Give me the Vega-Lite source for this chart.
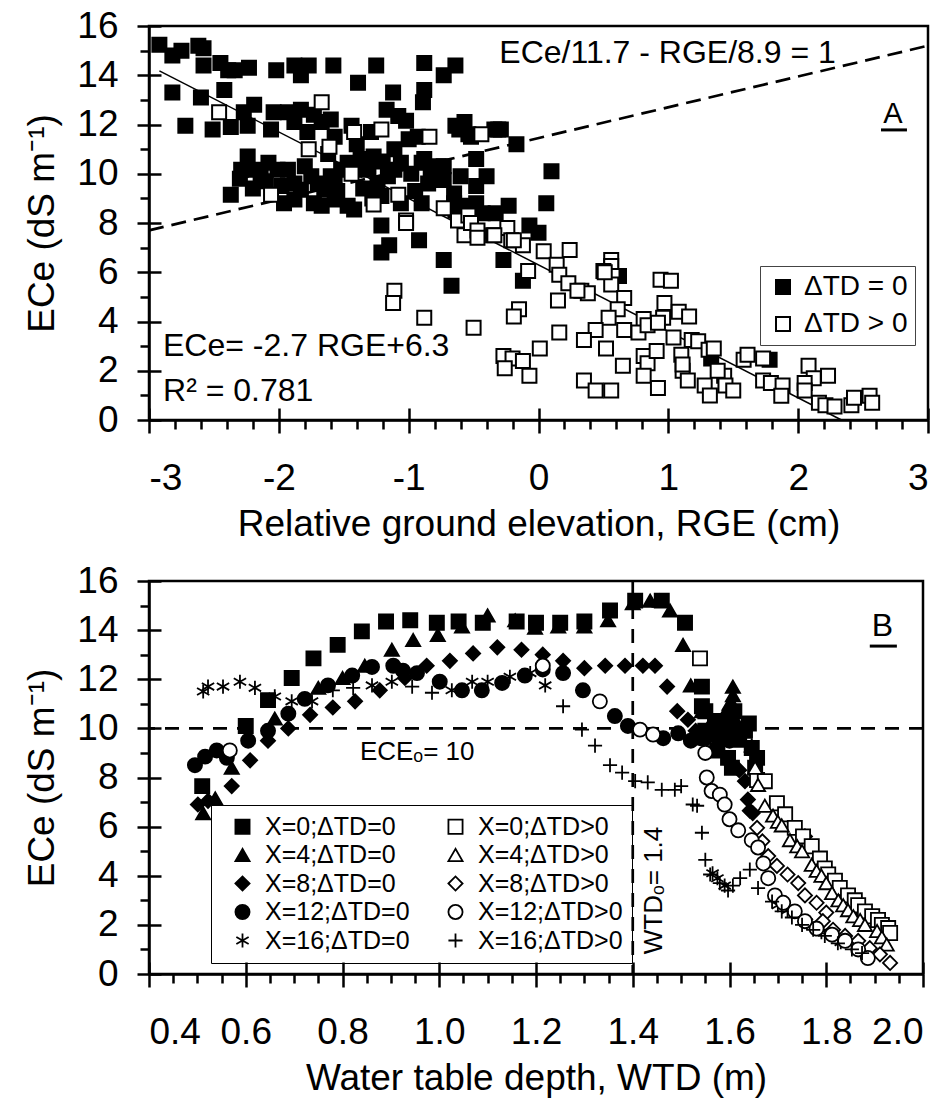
{
"$schema": "https://vega.github.io/schema/vega-lite/v6.json",
"padding": {"left": 22, "top": 5, "right": 5, "bottom": 0},
"spacing": 16,
"resolve": {"scale": {"fill": "independent", "shape": "independent", "stroke": "independent"}, "legend": {"fill": "independent", "shape": "independent", "stroke": "independent"}},
"config": {
  "font": "Liberation Sans",
  "view": {"stroke": "black", "strokeWidth": 2.5},
  "axis": {"grid": false, "domainColor": "black", "domainWidth": 2.5, "tickColor": "black", "tickWidth": 2.5, "labelColor": "black", "titleColor": "black", "labelFontSize": 37, "titleFontSize": 37, "titleFontWeight": "normal", "labelFont": "Liberation Sans", "titleFont": "Liberation Sans"},
  "legend": {"labelFont": "Liberation Sans", "labelColor": "black"},
  "text": {"font": "Liberation Sans", "color": "black"}
},
"datasets": {
  "ptsA": [
{"r":-2.92,"e":15.24,"g":"ΔTD = 0"},{"r":-2.82,"e":14.8,"g":"ΔTD = 0"},{"r":-2.75,"e":15.0,"g":"ΔTD = 0"},{"r":-2.62,"e":15.2,"g":"ΔTD = 0"},{"r":-2.58,"e":15.1,"g":"ΔTD = 0"},{"r":-2.58,"e":14.4,"g":"ΔTD = 0"},{"r":-2.45,"e":14.5,"g":"ΔTD = 0"},{"r":-2.39,"e":14.2,"g":"ΔTD = 0"},{"r":-2.34,"e":14.2,"g":"ΔTD = 0"},{"r":-2.23,"e":14.3,"g":"ΔTD = 0"},{"r":-2.02,"e":14.2,"g":"ΔTD = 0"},{"r":-1.88,"e":14.4,"g":"ΔTD = 0"},{"r":-1.83,"e":14.0,"g":"ΔTD = 0"},{"r":-1.77,"e":14.4,"g":"ΔTD = 0"},{"r":-1.58,"e":14.4,"g":"ΔTD = 0"},{"r":-1.39,"e":13.7,"g":"ΔTD = 0"},{"r":-1.25,"e":14.4,"g":"ΔTD = 0"},{"r":-1.12,"e":13.3,"g":"ΔTD = 0"},{"r":-0.88,"e":14.5,"g":"ΔTD = 0"},{"r":-0.88,"e":13.4,"g":"ΔTD = 0"},{"r":-0.89,"e":12.9,"g":"ΔTD = 0"},{"r":-0.73,"e":14.0,"g":"ΔTD = 0"},{"r":-0.64,"e":14.4,"g":"ΔTD = 0"},
{"r":-2.82,"e":13.3,"g":"ΔTD = 0"},{"r":-2.72,"e":11.95,"g":"ΔTD = 0"},{"r":-2.60,"e":13.1,"g":"ΔTD = 0"},{"r":-2.42,"e":13.4,"g":"ΔTD = 0"},{"r":-2.51,"e":11.8,"g":"ΔTD = 0"},{"r":-2.37,"e":11.9,"g":"ΔTD = 0"},{"r":-2.27,"e":12.5,"g":"ΔTD = 0"},{"r":-2.19,"e":12.8,"g":"ΔTD = 0"},{"r":-2.24,"e":11.95,"g":"ΔTD = 0"},{"r":-2.04,"e":12.5,"g":"ΔTD = 0"},{"r":-2.06,"e":11.8,"g":"ΔTD = 0"},{"r":-1.93,"e":12.5,"g":"ΔTD = 0"},{"r":-1.83,"e":12.6,"g":"ΔTD = 0"},{"r":-1.88,"e":12.1,"g":"ΔTD = 0"},{"r":-1.73,"e":12.4,"g":"ΔTD = 0"},{"r":-1.67,"e":12.1,"g":"ΔTD = 0"},{"r":-1.78,"e":11.7,"g":"ΔTD = 0"},{"r":-1.60,"e":12.2,"g":"ΔTD = 0"},{"r":-1.44,"e":11.95,"g":"ΔTD = 0"},{"r":-1.57,"e":11.5,"g":"ΔTD = 0"},{"r":-1.29,"e":11.7,"g":"ΔTD = 0"},{"r":-1.17,"e":12.6,"g":"ΔTD = 0"},{"r":-1.08,"e":12.35,"g":"ΔTD = 0"},{"r":-1.02,"e":12.15,"g":"ΔTD = 0"},{"r":-0.93,"e":11.5,"g":"ΔTD = 0"},{"r":-0.64,"e":11.95,"g":"ΔTD = 0"},{"r":-0.57,"e":12.1,"g":"ΔTD = 0"},{"r":-0.54,"e":11.6,"g":"ΔTD = 0"},
{"r":-2.29,"e":10.16,"g":"ΔTD = 0"},{"r":-2.24,"e":10.7,"g":"ΔTD = 0"},{"r":-2.19,"e":10.16,"g":"ΔTD = 0"},{"r":-2.14,"e":10.0,"g":"ΔTD = 0"},{"r":-2.08,"e":10.45,"g":"ΔTD = 0"},{"r":-2.01,"e":10.16,"g":"ΔTD = 0"},{"r":-1.93,"e":10.16,"g":"ΔTD = 0"},{"r":-1.88,"e":9.6,"g":"ΔTD = 0"},{"r":-1.83,"e":9.35,"g":"ΔTD = 0"},{"r":-1.75,"e":9.9,"g":"ΔTD = 0"},{"r":-1.70,"e":9.6,"g":"ΔTD = 0"},{"r":-1.65,"e":9.35,"g":"ΔTD = 0"},{"r":-1.60,"e":9.9,"g":"ΔTD = 0"},{"r":-1.52,"e":10.16,"g":"ΔTD = 0"},{"r":-1.47,"e":10.45,"g":"ΔTD = 0"},{"r":-1.42,"e":10.16,"g":"ΔTD = 0"},{"r":-1.37,"e":10.6,"g":"ΔTD = 0"},{"r":-1.31,"e":10.16,"g":"ΔTD = 0"},{"r":-1.24,"e":9.6,"g":"ΔTD = 0"},{"r":-1.16,"e":9.9,"g":"ΔTD = 0"},{"r":-1.11,"e":10.16,"g":"ΔTD = 0"},{"r":-1.06,"e":10.45,"g":"ΔTD = 0"},{"r":-0.98,"e":10.0,"g":"ΔTD = 0"},{"r":-0.90,"e":10.45,"g":"ΔTD = 0"},{"r":-0.83,"e":10.0,"g":"ΔTD = 0"},{"r":-0.77,"e":10.3,"g":"ΔTD = 0"},{"r":-0.73,"e":9.75,"g":"ΔTD = 0"},{"r":-0.65,"e":9.2,"g":"ΔTD = 0"},{"r":-0.60,"e":9.9,"g":"ΔTD = 0"},
{"r":-1.96,"e":8.8,"g":"ΔTD = 0"},{"r":-1.88,"e":8.95,"g":"ΔTD = 0"},{"r":-1.73,"e":8.8,"g":"ΔTD = 0"},{"r":-1.67,"e":8.7,"g":"ΔTD = 0"},{"r":-1.57,"e":8.95,"g":"ΔTD = 0"},{"r":-1.47,"e":8.7,"g":"ΔTD = 0"},{"r":-1.42,"e":8.55,"g":"ΔTD = 0"},{"r":-1.21,"e":9.1,"g":"ΔTD = 0"},{"r":-1.06,"e":8.8,"g":"ΔTD = 0"},{"r":-0.90,"e":8.8,"g":"ΔTD = 0"},{"r":-0.65,"e":8.8,"g":"ΔTD = 0"},{"r":-0.54,"e":8.7,"g":"ΔTD = 0"},{"r":-2.37,"e":9.15,"g":"ΔTD = 0"},{"r":-1.27,"e":10.7,"g":"ΔTD = 0"},{"r":-1.11,"e":11.0,"g":"ΔTD = 0"},{"r":-1.57,"e":9.6,"g":"ΔTD = 0"},{"r":-0.88,"e":10.6,"g":"ΔTD = 0"},{"r":-2.20,"e":9.4,"g":"ΔTD = 0"},{"r":-2.10,"e":9.7,"g":"ΔTD = 0"},{"r":-1.98,"e":9.5,"g":"ΔTD = 0"},{"r":-1.80,"e":10.3,"g":"ΔTD = 0"},{"r":-1.55,"e":9.3,"g":"ΔTD = 0"},{"r":-1.35,"e":9.4,"g":"ΔTD = 0"},{"r":-1.28,"e":9.0,"g":"ΔTD = 0"},{"r":-1.20,"e":10.5,"g":"ΔTD = 0"},{"r":-0.95,"e":9.3,"g":"ΔTD = 0"},{"r":-0.85,"e":9.6,"g":"ΔTD = 0"},{"r":-2.30,"e":9.8,"g":"ΔTD = 0"},{"r":-1.62,"e":10.8,"g":"ΔTD = 0"},{"r":-1.00,"e":11.4,"g":"ΔTD = 0"},{"r":-1.40,"e":11.2,"g":"ΔTD = 0"},
{"r":-1.21,"e":7.9,"g":"ΔTD = 0"},{"r":-1.21,"e":6.8,"g":"ΔTD = 0"},{"r":-1.15,"e":7.1,"g":"ΔTD = 0"},{"r":-0.92,"e":7.3,"g":"ΔTD = 0"},{"r":-0.73,"e":6.5,"g":"ΔTD = 0"},{"r":-0.67,"e":5.45,"g":"ΔTD = 0"},{"r":-0.61,"e":11.8,"g":"ΔTD = 0"},{"r":-0.52,"e":11.5,"g":"ΔTD = 0"},{"r":-0.34,"e":11.8,"g":"ΔTD = 0"},{"r":-0.29,"e":11.8,"g":"ΔTD = 0"},{"r":-0.17,"e":11.2,"g":"ΔTD = 0"},{"r":-0.48,"e":10.6,"g":"ΔTD = 0"},{"r":-0.73,"e":10.3,"g":"ΔTD = 0"},{"r":-0.79,"e":9.8,"g":"ΔTD = 0"},{"r":0.10,"e":10.1,"g":"ΔTD = 0"},{"r":-0.48,"e":9.5,"g":"ΔTD = 0"},{"r":-0.48,"e":8.8,"g":"ΔTD = 0"},{"r":-0.43,"e":8.4,"g":"ΔTD = 0"},{"r":-0.33,"e":8.4,"g":"ΔTD = 0"},{"r":-0.23,"e":8.7,"g":"ΔTD = 0"},{"r":0.06,"e":8.8,"g":"ΔTD = 0"},{"r":-0.07,"e":7.9,"g":"ΔTD = 0"},{"r":0.00,"e":7.6,"g":"ΔTD = 0"},{"r":-0.64,"e":8.5,"g":"ΔTD = 0"},{"r":-0.27,"e":6.5,"g":"ΔTD = 0"},{"r":-0.12,"e":5.65,"g":"ΔTD = 0"},{"r":0.62,"e":5.85,"g":"ΔTD = 0"},{"r":1.33,"e":2.5,"g":"ΔTD = 0"},{"r":1.78,"e":2.45,"g":"ΔTD = 0"},{"r":-0.31,"e":11.8,"g":"ΔTD = 0"},{"r":-0.40,"e":9.9,"g":"ΔTD = 0"},
{"r":-1.67,"e":12.9,"g":"ΔTD > 0"},{"r":-2.46,"e":12.5,"g":"ΔTD > 0"},{"r":-1.77,"e":11.0,"g":"ΔTD > 0"},{"r":-1.61,"e":11.1,"g":"ΔTD > 0"},{"r":-1.42,"e":11.7,"g":"ΔTD > 0"},{"r":-1.21,"e":11.8,"g":"ΔTD > 0"},{"r":-0.84,"e":11.5,"g":"ΔTD > 0"},{"r":-1.44,"e":10.0,"g":"ΔTD > 0"},{"r":-2.06,"e":9.15,"g":"ΔTD > 0"},{"r":-1.27,"e":8.75,"g":"ΔTD > 0"},{"r":-1.08,"e":9.15,"g":"ΔTD > 0"},{"r":-1.02,"e":8.1,"g":"ΔTD > 0"},{"r":-0.73,"e":8.6,"g":"ΔTD > 0"},{"r":-0.62,"e":8.1,"g":"ΔTD > 0"},{"r":-0.54,"e":8.3,"g":"ΔTD > 0"},{"r":-1.11,"e":5.25,"g":"ΔTD > 0"},{"r":-1.12,"e":4.75,"g":"ΔTD > 0"},{"r":-0.88,"e":4.15,"g":"ΔTD > 0"},{"r":-0.50,"e":3.75,"g":"ΔTD > 0"},{"r":-0.44,"e":11.6,"g":"ΔTD > 0"},{"r":-0.57,"e":7.5,"g":"ΔTD > 0"},{"r":-0.52,"e":8.0,"g":"ΔTD > 0"},{"r":-0.47,"e":7.7,"g":"ΔTD > 0"},{"r":-0.47,"e":7.4,"g":"ΔTD > 0"},{"r":-0.35,"e":7.5,"g":"ΔTD > 0"},{"r":-0.24,"e":7.8,"g":"ΔTD > 0"},{"r":-0.21,"e":7.3,"g":"ΔTD > 0"},{"r":-0.12,"e":7.1,"g":"ΔTD > 0"},{"r":0.04,"e":6.85,"g":"ΔTD > 0"},{"r":0.24,"e":6.9,"g":"ΔTD > 0"},{"r":0.14,"e":6.3,"g":"ΔTD > 0"},{"r":0.16,"e":5.9,"g":"ΔTD > 0"},{"r":-0.08,"e":6.05,"g":"ΔTD > 0"},{"r":0.23,"e":5.55,"g":"ΔTD > 0"},{"r":0.15,"e":4.85,"g":"ΔTD > 0"},{"r":0.33,"e":5.25,"g":"ΔTD > 0"},{"r":0.38,"e":5.15,"g":"ΔTD > 0"},{"r":0.56,"e":6.5,"g":"ΔTD > 0"},{"r":0.56,"e":6.25,"g":"ΔTD > 0"},{"r":0.50,"e":6.05,"g":"ΔTD > 0"},{"r":0.57,"e":5.85,"g":"ΔTD > 0"},{"r":0.56,"e":5.5,"g":"ΔTD > 0"},{"r":0.66,"e":4.95,"g":"ΔTD > 0"},{"r":0.61,"e":4.5,"g":"ΔTD > 0"},{"r":0.94,"e":5.7,"g":"ΔTD > 0"},{"r":1.02,"e":5.65,"g":"ΔTD > 0"},{"r":0.97,"e":4.75,"g":"ΔTD > 0"},{"r":1.08,"e":4.4,"g":"ΔTD > 0"},{"r":1.16,"e":4.2,"g":"ΔTD > 0"},{"r":-0.15,"e":4.5,"g":"ΔTD > 0"},{"r":-0.19,"e":4.2,"g":"ΔTD > 0"},{"r":-0.34,"e":7.5,"g":"ΔTD > 0"},{"r":-0.19,"e":7.3,"g":"ΔTD > 0"},{"r":0.54,"e":4.15,"g":"ΔTD > 0"},{"r":0.44,"e":3.65,"g":"ΔTD > 0"},{"r":0.35,"e":3.25,"g":"ΔTD > 0"},{"r":0.52,"e":2.9,"g":"ΔTD > 0"},{"r":0.16,"e":3.55,"g":"ΔTD > 0"},{"r":0.01,"e":2.9,"g":"ΔTD > 0"},{"r":-0.27,"e":2.6,"g":"ΔTD > 0"},{"r":-0.20,"e":2.5,"g":"ΔTD > 0"},{"r":-0.12,"e":2.4,"g":"ΔTD > 0"},{"r":-0.26,"e":2.1,"g":"ΔTD > 0"},{"r":-0.07,"e":1.8,"g":"ΔTD > 0"},{"r":0.35,"e":1.6,"g":"ΔTD > 0"},{"r":0.44,"e":1.2,"g":"ΔTD > 0"},{"r":0.56,"e":1.2,"g":"ΔTD > 0"},{"r":0.96,"e":4.15,"g":"ΔTD > 0"},{"r":0.81,"e":4.1,"g":"ΔTD > 0"},{"r":0.66,"e":3.65,"g":"ΔTD > 0"},{"r":0.77,"e":3.55,"g":"ΔTD > 0"},{"r":0.84,"e":3.85,"g":"ΔTD > 0"},{"r":0.92,"e":3.95,"g":"ΔTD > 0"},{"r":1.04,"e":3.35,"g":"ΔTD > 0"},{"r":1.10,"e":2.65,"g":"ΔTD > 0"},{"r":1.18,"e":3.25,"g":"ΔTD > 0"},{"r":1.23,"e":3.2,"g":"ΔTD > 0"},{"r":1.31,"e":2.85,"g":"ΔTD > 0"},{"r":1.35,"e":2.9,"g":"ΔTD > 0"},{"r":0.65,"e":2.2,"g":"ΔTD > 0"},{"r":0.81,"e":2.6,"g":"ΔTD > 0"},{"r":0.84,"e":2.3,"g":"ΔTD > 0"},{"r":0.91,"e":2.8,"g":"ΔTD > 0"},{"r":0.81,"e":1.8,"g":"ΔTD > 0"},{"r":0.92,"e":1.3,"g":"ΔTD > 0"},{"r":1.11,"e":2.0,"g":"ΔTD > 0"},{"r":1.15,"e":1.6,"g":"ΔTD > 0"},{"r":1.28,"e":1.4,"g":"ΔTD > 0"},{"r":1.32,"e":1.0,"g":"ΔTD > 0"},{"r":1.43,"e":1.8,"g":"ΔTD > 0"},{"r":1.44,"e":1.4,"g":"ΔTD > 0"},{"r":1.50,"e":1.2,"g":"ΔTD > 0"},{"r":1.38,"e":2.0,"g":"ΔTD > 0"},{"r":1.11,"e":2.25,"g":"ΔTD > 0"},{"r":1.58,"e":2.45,"g":"ΔTD > 0"},{"r":1.61,"e":2.65,"g":"ΔTD > 0"},{"r":1.73,"e":2.5,"g":"ΔTD > 0"},{"r":1.73,"e":1.6,"g":"ΔTD > 0"},{"r":1.79,"e":1.5,"g":"ΔTD > 0"},{"r":1.88,"e":1.4,"g":"ΔTD > 0"},{"r":1.87,"e":0.98,"g":"ΔTD > 0"},{"r":2.08,"e":2.2,"g":"ΔTD > 0"},{"r":2.12,"e":1.7,"g":"ΔTD > 0"},{"r":2.23,"e":1.8,"g":"ΔTD > 0"},{"r":2.05,"e":1.5,"g":"ΔTD > 0"},{"r":2.05,"e":1.2,"g":"ΔTD > 0"},{"r":2.16,"e":0.7,"g":"ΔTD > 0"},{"r":2.21,"e":0.6,"g":"ΔTD > 0"},{"r":2.28,"e":0.55,"g":"ΔTD > 0"},{"r":2.41,"e":0.6,"g":"ΔTD > 0"},{"r":2.43,"e":0.9,"g":"ΔTD > 0"},{"r":2.55,"e":0.98,"g":"ΔTD > 0"},{"r":2.57,"e":0.7,"g":"ΔTD > 0"},{"r":0.30,"e":5.25,"g":"ΔTD > 0"},{"r":0.51,"e":6.0,"g":"ΔTD > 0"},{"r":-1.02,"e":8.0,"g":"ΔTD > 0"}
  ],
  "regA": [{"r":-2.92,"e":14.18},{"r":2.33,"e":0.01}],
  "dashA": [{"r":-3,"e":7.7},{"r":3,"e":15.2}],
  "txtA1": [{"r":0.994,"e":14.5,"t":"ECe/11.7 - RGE/8.9 = 1"}],
  "txtA2": [{"r":-2.892,"e":2.6,"t":"ECe= -2.7 RGE+6.3"},{"r":-2.892,"e":0.77,"t":"R² = 0.781"}],
  "txtA3": [{"r":2.73,"e":12.06,"t":"A"}],
  "ulA": [{"r":2.638,"r2":2.838,"e":11.78}],
  "ptsB": [
{"w":0.51,"e":7.65,"s":"X=0;ΔTD=0"},{"w":0.60,"e":10.1,"s":"X=0;ΔTD=0"},{"w":0.646,"e":11.15,"s":"X=0;ΔTD=0"},{"w":0.695,"e":12.05,"s":"X=0;ΔTD=0"},{"w":0.74,"e":12.85,"s":"X=0;ΔTD=0"},{"w":0.79,"e":13.4,"s":"X=0;ΔTD=0"},{"w":0.84,"e":13.95,"s":"X=0;ΔTD=0"},{"w":0.89,"e":14.35,"s":"X=0;ΔTD=0"},{"w":0.94,"e":14.4,"s":"X=0;ΔTD=0"},{"w":0.995,"e":14.3,"s":"X=0;ΔTD=0"},{"w":1.04,"e":14.35,"s":"X=0;ΔTD=0"},{"w":1.09,"e":14.3,"s":"X=0;ΔTD=0"},{"w":1.16,"e":14.35,"s":"X=0;ΔTD=0"},{"w":1.20,"e":14.3,"s":"X=0;ΔTD=0"},{"w":1.25,"e":14.3,"s":"X=0;ΔTD=0"},{"w":1.30,"e":14.35,"s":"X=0;ΔTD=0"},{"w":1.353,"e":14.8,"s":"X=0;ΔTD=0"},{"w":1.405,"e":15.2,"s":"X=0;ΔTD=0"},{"w":1.46,"e":15.2,"s":"X=0;ΔTD=0"},{"w":1.508,"e":14.3,"s":"X=0;ΔTD=0"},{"w":1.543,"e":11.7,"s":"X=0;ΔTD=0"},{"w":1.543,"e":10.9,"s":"X=0;ΔTD=0"},{"w":1.55,"e":10.7,"s":"X=0;ΔTD=0"},{"w":1.55,"e":9.9,"s":"X=0;ΔTD=0"},{"w":1.57,"e":10.3,"s":"X=0;ΔTD=0"},{"w":1.58,"e":9.6,"s":"X=0;ΔTD=0"},{"w":1.59,"e":10.1,"s":"X=0;ΔTD=0"},{"w":1.605,"e":9.9,"s":"X=0;ΔTD=0"},{"w":1.605,"e":8.4,"s":"X=0;ΔTD=0"},{"w":1.597,"e":8.8,"s":"X=0;ΔTD=0"},{"w":1.62,"e":9.6,"s":"X=0;ΔTD=0"},{"w":1.632,"e":9.9,"s":"X=0;ΔTD=0"},{"w":1.646,"e":9.2,"s":"X=0;ΔTD=0"},{"w":1.653,"e":8.4,"s":"X=0;ΔTD=0"},{"w":1.657,"e":8.8,"s":"X=0;ΔTD=0"},{"w":1.64,"e":10.2,"s":"X=0;ΔTD=0"},{"w":1.61,"e":10.7,"s":"X=0;ΔTD=0"},{"w":1.575,"e":9.1,"s":"X=0;ΔTD=0"},
{"w":0.512,"e":6.55,"s":"X=4;ΔTD=0"},{"w":0.537,"e":7.15,"s":"X=4;ΔTD=0"},{"w":0.571,"e":8.4,"s":"X=4;ΔTD=0"},{"w":0.66,"e":10.4,"s":"X=4;ΔTD=0"},{"w":0.75,"e":11.65,"s":"X=4;ΔTD=0"},{"w":0.80,"e":12.05,"s":"X=4;ΔTD=0"},{"w":0.846,"e":12.55,"s":"X=4;ΔTD=0"},{"w":0.902,"e":13.2,"s":"X=4;ΔTD=0"},{"w":0.946,"e":13.6,"s":"X=4;ΔTD=0"},{"w":0.997,"e":13.8,"s":"X=4;ΔTD=0"},{"w":1.047,"e":14.15,"s":"X=4;ΔTD=0"},{"w":1.10,"e":14.6,"s":"X=4;ΔTD=0"},{"w":1.157,"e":14.4,"s":"X=4;ΔTD=0"},{"w":1.198,"e":14.1,"s":"X=4;ΔTD=0"},{"w":1.246,"e":14.15,"s":"X=4;ΔTD=0"},{"w":1.30,"e":14.15,"s":"X=4;ΔTD=0"},{"w":1.349,"e":14.4,"s":"X=4;ΔTD=0"},{"w":1.40,"e":15.1,"s":"X=4;ΔTD=0"},{"w":1.436,"e":15.2,"s":"X=4;ΔTD=0"},{"w":1.456,"e":15.2,"s":"X=4;ΔTD=0"},{"w":1.477,"e":14.8,"s":"X=4;ΔTD=0"},{"w":1.504,"e":13.4,"s":"X=4;ΔTD=0"},{"w":1.52,"e":11.75,"s":"X=4;ΔTD=0"},{"w":1.543,"e":10.7,"s":"X=4;ΔTD=0"},{"w":1.56,"e":10.2,"s":"X=4;ΔTD=0"},{"w":1.58,"e":9.8,"s":"X=4;ΔTD=0"},{"w":1.59,"e":10.6,"s":"X=4;ΔTD=0"},{"w":1.60,"e":11.0,"s":"X=4;ΔTD=0"},{"w":1.607,"e":11.7,"s":"X=4;ΔTD=0"},{"w":1.607,"e":11.35,"s":"X=4;ΔTD=0"},{"w":1.607,"e":10.95,"s":"X=4;ΔTD=0"},{"w":1.611,"e":10.4,"s":"X=4;ΔTD=0"},{"w":1.615,"e":9.8,"s":"X=4;ΔTD=0"},{"w":1.625,"e":9.5,"s":"X=4;ΔTD=0"},{"w":1.646,"e":9.3,"s":"X=4;ΔTD=0"},
{"w":0.501,"e":6.9,"s":"X=8;ΔTD=0"},{"w":0.522,"e":7.05,"s":"X=8;ΔTD=0"},{"w":0.571,"e":7.65,"s":"X=8;ΔTD=0"},{"w":0.609,"e":8.7,"s":"X=8;ΔTD=0"},{"w":0.646,"e":9.5,"s":"X=8;ΔTD=0"},{"w":0.688,"e":10.0,"s":"X=8;ΔTD=0"},{"w":0.733,"e":10.55,"s":"X=8;ΔTD=0"},{"w":0.78,"e":10.85,"s":"X=8;ΔTD=0"},{"w":0.826,"e":11.1,"s":"X=8;ΔTD=0"},{"w":0.877,"e":11.55,"s":"X=8;ΔTD=0"},{"w":0.929,"e":12.05,"s":"X=8;ΔTD=0"},{"w":0.974,"e":12.55,"s":"X=8;ΔTD=0"},{"w":1.022,"e":12.75,"s":"X=8;ΔTD=0"},{"w":1.07,"e":13.05,"s":"X=8;ΔTD=0"},{"w":1.12,"e":13.3,"s":"X=8;ΔTD=0"},{"w":1.17,"e":13.2,"s":"X=8;ΔTD=0"},{"w":1.214,"e":13.0,"s":"X=8;ΔTD=0"},{"w":1.256,"e":12.75,"s":"X=8;ΔTD=0"},{"w":1.30,"e":12.45,"s":"X=8;ΔTD=0"},{"w":1.343,"e":12.55,"s":"X=8;ΔTD=0"},{"w":1.384,"e":12.55,"s":"X=8;ΔTD=0"},{"w":1.421,"e":12.55,"s":"X=8;ΔTD=0"},{"w":1.446,"e":12.55,"s":"X=8;ΔTD=0"},{"w":1.471,"e":11.7,"s":"X=8;ΔTD=0"},{"w":1.492,"e":10.7,"s":"X=8;ΔTD=0"},{"w":1.514,"e":10.35,"s":"X=8;ΔTD=0"},{"w":1.53,"e":9.9,"s":"X=8;ΔTD=0"},{"w":1.55,"e":9.5,"s":"X=8;ΔTD=0"},{"w":1.57,"e":9.2,"s":"X=8;ΔTD=0"},{"w":1.60,"e":8.6,"s":"X=8;ΔTD=0"},{"w":1.62,"e":8.3,"s":"X=8;ΔTD=0"},{"w":1.632,"e":7.85,"s":"X=8;ΔTD=0"},{"w":1.638,"e":7.1,"s":"X=8;ΔTD=0"},{"w":1.642,"e":6.65,"s":"X=8;ΔTD=0"},{"w":1.648,"e":6.55,"s":"X=8;ΔTD=0"},{"w":1.756,"e":5.6,"s":"X=8;ΔTD=0"},{"w":1.86,"e":2.5,"s":"X=8;ΔTD=0"},
{"w":0.495,"e":8.5,"s":"X=12;ΔTD=0"},{"w":0.516,"e":8.85,"s":"X=12;ΔTD=0"},{"w":0.54,"e":9.1,"s":"X=12;ΔTD=0"},{"w":0.561,"e":8.8,"s":"X=12;ΔTD=0"},{"w":0.605,"e":9.5,"s":"X=12;ΔTD=0"},{"w":0.646,"e":9.9,"s":"X=12;ΔTD=0"},{"w":0.688,"e":10.6,"s":"X=12;ΔTD=0"},{"w":0.722,"e":11.2,"s":"X=12;ΔTD=0"},{"w":0.77,"e":11.75,"s":"X=12;ΔTD=0"},{"w":0.82,"e":12.15,"s":"X=12;ΔTD=0"},{"w":0.861,"e":12.5,"s":"X=12;ΔTD=0"},{"w":0.905,"e":12.55,"s":"X=12;ΔTD=0"},{"w":0.925,"e":12.35,"s":"X=12;ΔTD=0"},{"w":0.954,"e":12.25,"s":"X=12;ΔTD=0"},{"w":1.001,"e":11.9,"s":"X=12;ΔTD=0"},{"w":1.047,"e":11.55,"s":"X=12;ΔTD=0"},{"w":1.088,"e":11.55,"s":"X=12;ΔTD=0"},{"w":1.13,"e":11.85,"s":"X=12;ΔTD=0"},{"w":1.177,"e":12.15,"s":"X=12;ΔTD=0"},{"w":1.214,"e":12.4,"s":"X=12;ΔTD=0"},{"w":1.256,"e":12.25,"s":"X=12;ΔTD=0"},{"w":1.297,"e":11.55,"s":"X=12;ΔTD=0"},{"w":1.363,"e":10.5,"s":"X=12;ΔTD=0"},{"w":1.39,"e":10.1,"s":"X=12;ΔTD=0"},{"w":1.463,"e":9.6,"s":"X=12;ΔTD=0"},{"w":1.494,"e":9.8,"s":"X=12;ΔTD=0"},{"w":1.52,"e":9.5,"s":"X=12;ΔTD=0"},{"w":1.54,"e":9.6,"s":"X=12;ΔTD=0"},{"w":1.56,"e":9.8,"s":"X=12;ΔTD=0"},{"w":1.58,"e":9.9,"s":"X=12;ΔTD=0"},{"w":1.60,"e":9.5,"s":"X=12;ΔTD=0"},
{"w":0.512,"e":11.5,"s":"X=16;ΔTD=0"},{"w":0.522,"e":11.7,"s":"X=16;ΔTD=0"},{"w":0.553,"e":11.7,"s":"X=16;ΔTD=0"},{"w":0.588,"e":11.9,"s":"X=16;ΔTD=0"},{"w":0.619,"e":11.65,"s":"X=16;ΔTD=0"},{"w":0.66,"e":11.3,"s":"X=16;ΔTD=0"},{"w":0.695,"e":11.1,"s":"X=16;ΔTD=0"},{"w":0.737,"e":11.1,"s":"X=16;ΔTD=0"},{"w":0.861,"e":11.75,"s":"X=16;ΔTD=0"},{"w":0.902,"e":11.9,"s":"X=16;ΔTD=0"},{"w":1.026,"e":11.55,"s":"X=16;ΔTD=0"},{"w":1.068,"e":11.9,"s":"X=16;ΔTD=0"},{"w":1.10,"e":11.9,"s":"X=16;ΔTD=0"},{"w":1.146,"e":12.1,"s":"X=16;ΔTD=0"},{"w":1.188,"e":12.25,"s":"X=16;ΔTD=0"},{"w":1.219,"e":11.75,"s":"X=16;ΔTD=0"},{"w":1.565,"e":4.1,"s":"X=16;ΔTD=0"},{"w":1.575,"e":3.9,"s":"X=16;ΔTD=0"},{"w":1.59,"e":3.6,"s":"X=16;ΔTD=0"},{"w":1.70,"e":2.8,"s":"X=16;ΔTD=0"},{"w":1.72,"e":2.6,"s":"X=16;ΔTD=0"},{"w":1.76,"e":2.1,"s":"X=16;ΔTD=0"},{"w":1.79,"e":1.7,"s":"X=16;ΔTD=0"},{"w":1.83,"e":1.3,"s":"X=16;ΔTD=0"},
{"w":1.539,"e":12.85,"s":"X=0;ΔTD>0"},{"w":1.657,"e":7.9,"s":"X=0;ΔTD>0"},{"w":1.673,"e":7.85,"s":"X=0;ΔTD>0"},{"w":1.698,"e":6.95,"s":"X=0;ΔTD>0"},{"w":1.715,"e":6.5,"s":"X=0;ΔTD>0"},{"w":1.735,"e":5.95,"s":"X=0;ΔTD>0"},{"w":1.752,"e":5.6,"s":"X=0;ΔTD>0"},{"w":1.77,"e":5.2,"s":"X=0;ΔTD>0"},{"w":1.787,"e":4.7,"s":"X=0;ΔTD>0"},{"w":1.797,"e":4.3,"s":"X=0;ΔTD>0"},{"w":1.804,"e":4.05,"s":"X=0;ΔTD>0"},{"w":1.818,"e":3.8,"s":"X=0;ΔTD>0"},{"w":1.828,"e":3.5,"s":"X=0;ΔTD>0"},{"w":1.845,"e":3.2,"s":"X=0;ΔTD>0"},{"w":1.859,"e":3.0,"s":"X=0;ΔTD>0"},{"w":1.866,"e":2.8,"s":"X=0;ΔTD>0"},{"w":1.88,"e":2.55,"s":"X=0;ΔTD>0"},{"w":1.895,"e":2.35,"s":"X=0;ΔTD>0"},{"w":1.907,"e":2.2,"s":"X=0;ΔTD>0"},{"w":1.915,"e":2.0,"s":"X=0;ΔTD>0"},{"w":1.928,"e":1.87,"s":"X=0;ΔTD>0"},{"w":1.932,"e":1.67,"s":"X=0;ΔTD>0"},
{"w":1.653,"e":8.4,"s":"X=4;ΔTD>0"},{"w":1.659,"e":7.7,"s":"X=4;ΔTD>0"},{"w":1.673,"e":6.85,"s":"X=4;ΔTD>0"},{"w":1.69,"e":6.45,"s":"X=4;ΔTD>0"},{"w":1.70,"e":6.2,"s":"X=4;ΔTD>0"},{"w":1.708,"e":6.05,"s":"X=4;ΔTD>0"},{"w":1.725,"e":5.45,"s":"X=4;ΔTD>0"},{"w":1.74,"e":5.2,"s":"X=4;ΔTD>0"},{"w":1.75,"e":5.0,"s":"X=4;ΔTD>0"},{"w":1.77,"e":4.45,"s":"X=4;ΔTD>0"},{"w":1.78,"e":4.2,"s":"X=4;ΔTD>0"},{"w":1.79,"e":4.0,"s":"X=4;ΔTD>0"},{"w":1.80,"e":3.7,"s":"X=4;ΔTD>0"},{"w":1.812,"e":3.3,"s":"X=4;ΔTD>0"},{"w":1.825,"e":3.0,"s":"X=4;ΔTD>0"},{"w":1.835,"e":2.8,"s":"X=4;ΔTD>0"},{"w":1.845,"e":2.6,"s":"X=4;ΔTD>0"},{"w":1.856,"e":2.35,"s":"X=4;ΔTD>0"},{"w":1.87,"e":2.2,"s":"X=4;ΔTD>0"},{"w":1.88,"e":2.0,"s":"X=4;ΔTD>0"},{"w":1.905,"e":1.75,"s":"X=4;ΔTD>0"},{"w":1.915,"e":1.5,"s":"X=4;ΔTD>0"},{"w":1.925,"e":1.2,"s":"X=4;ΔTD>0"},
{"w":1.657,"e":5.95,"s":"X=8;ΔTD>0"},{"w":1.668,"e":5.4,"s":"X=8;ΔTD>0"},{"w":1.68,"e":4.8,"s":"X=8;ΔTD>0"},{"w":1.698,"e":4.4,"s":"X=8;ΔTD>0"},{"w":1.72,"e":4.05,"s":"X=8;ΔTD>0"},{"w":1.742,"e":3.7,"s":"X=8;ΔTD>0"},{"w":1.756,"e":3.2,"s":"X=8;ΔTD>0"},{"w":1.78,"e":2.9,"s":"X=8;ΔTD>0"},{"w":1.80,"e":2.5,"s":"X=8;ΔTD>0"},{"w":1.793,"e":2.15,"s":"X=8;ΔTD>0"},{"w":1.814,"e":1.8,"s":"X=8;ΔTD>0"},{"w":1.839,"e":1.55,"s":"X=8;ΔTD>0"},{"w":1.866,"e":1.35,"s":"X=8;ΔTD>0"},{"w":1.89,"e":1.05,"s":"X=8;ΔTD>0"},{"w":1.911,"e":0.8,"s":"X=8;ΔTD>0"},{"w":1.932,"e":0.45,"s":"X=8;ΔTD>0"},
{"w":0.567,"e":9.1,"s":"X=12;ΔTD>0"},{"w":1.214,"e":12.55,"s":"X=12;ΔTD>0"},{"w":1.332,"e":11.1,"s":"X=12;ΔTD>0"},{"w":1.415,"e":9.95,"s":"X=12;ΔTD>0"},{"w":1.442,"e":9.75,"s":"X=12;ΔTD>0"},{"w":1.55,"e":9.0,"s":"X=12;ΔTD>0"},{"w":1.553,"e":8.0,"s":"X=12;ΔTD>0"},{"w":1.563,"e":7.45,"s":"X=12;ΔTD>0"},{"w":1.58,"e":7.3,"s":"X=12;ΔTD>0"},{"w":1.59,"e":6.9,"s":"X=12;ΔTD>0"},{"w":1.60,"e":6.3,"s":"X=12;ΔTD>0"},{"w":1.618,"e":5.85,"s":"X=12;ΔTD>0"},{"w":1.646,"e":5.45,"s":"X=12;ΔTD>0"},{"w":1.659,"e":5.15,"s":"X=12;ΔTD>0"},{"w":1.67,"e":4.5,"s":"X=12;ΔTD>0"},{"w":1.68,"e":3.9,"s":"X=12;ΔTD>0"},{"w":1.694,"e":3.2,"s":"X=12;ΔTD>0"},{"w":1.711,"e":2.9,"s":"X=12;ΔTD>0"},{"w":1.735,"e":2.55,"s":"X=12;ΔTD>0"},{"w":1.756,"e":2.15,"s":"X=12;ΔTD>0"},{"w":1.78,"e":1.85,"s":"X=12;ΔTD>0"},{"w":1.812,"e":1.6,"s":"X=12;ΔTD>0"},{"w":1.839,"e":1.35,"s":"X=12;ΔTD>0"},{"w":1.866,"e":1.0,"s":"X=12;ΔTD>0"},{"w":1.886,"e":0.65,"s":"X=12;ΔTD>0"},
{"w":0.78,"e":11.55,"s":"X=16;ΔTD>0"},{"w":0.822,"e":11.65,"s":"X=16;ΔTD>0"},{"w":0.944,"e":11.7,"s":"X=16;ΔTD>0"},{"w":0.985,"e":11.45,"s":"X=16;ΔTD>0"},{"w":1.256,"e":10.9,"s":"X=16;ΔTD>0"},{"w":1.295,"e":9.95,"s":"X=16;ΔTD>0"},{"w":1.322,"e":9.3,"s":"X=16;ΔTD>0"},{"w":1.353,"e":8.5,"s":"X=16;ΔTD>0"},{"w":1.378,"e":8.2,"s":"X=16;ΔTD>0"},{"w":1.405,"e":7.85,"s":"X=16;ΔTD>0"},{"w":1.431,"e":7.8,"s":"X=16;ΔTD>0"},{"w":1.46,"e":7.5,"s":"X=16;ΔTD>0"},{"w":1.487,"e":7.5,"s":"X=16;ΔTD>0"},{"w":1.50,"e":7.65,"s":"X=16;ΔTD>0"},{"w":1.524,"e":6.9,"s":"X=16;ΔTD>0"},{"w":1.533,"e":6.85,"s":"X=16;ΔTD>0"},{"w":1.543,"e":5.75,"s":"X=16;ΔTD>0"},{"w":1.55,"e":4.65,"s":"X=16;ΔTD>0"},{"w":1.56,"e":4.05,"s":"X=16;ΔTD>0"},{"w":1.58,"e":3.7,"s":"X=16;ΔTD>0"},{"w":1.597,"e":3.4,"s":"X=16;ΔTD>0"},{"w":1.607,"e":3.6,"s":"X=16;ΔTD>0"},{"w":1.622,"e":3.9,"s":"X=16;ΔTD>0"},{"w":1.642,"e":4.25,"s":"X=16;ΔTD>0"},{"w":1.659,"e":3.5,"s":"X=16;ΔTD>0"},{"w":1.688,"e":2.95,"s":"X=16;ΔTD>0"},{"w":1.708,"e":2.55,"s":"X=16;ΔTD>0"},{"w":1.729,"e":2.3,"s":"X=16;ΔTD>0"},{"w":1.75,"e":2.0,"s":"X=16;ΔTD>0"},{"w":1.773,"e":1.8,"s":"X=16;ΔTD>0"},{"w":1.797,"e":1.55,"s":"X=16;ΔTD>0"},{"w":1.824,"e":1.25,"s":"X=16;ΔTD>0"},{"w":1.853,"e":1.0,"s":"X=16;ΔTD>0"},{"w":1.874,"e":0.85,"s":"X=16;ΔTD>0"}
  ],
  "hB": [{"e":10}],
  "vB": [{"w":1.4}],
  "txtB1": [{"w":0.836,"e":8.72,"t":"ECEₒ= 10"}],
  "txtB2": [{"w":1.4605,"e":3.4,"t":"WTDₒ= 1.4"}],
  "txtB3": [{"w":1.916,"e":13.76,"t":"B"}],
  "ulB": [{"w":1.890,"w2":1.946,"e":13.35}]
},
"vconcat": [
{
  "width": 779, "height": 394,
  "layer": [
    {"data": {"name": "dashA"}, "mark": {"type": "line", "color": "black", "strokeWidth": 2.7, "strokeDash": [15, 8]},
     "encoding": {
       "x": {"field": "r", "type": "quantitative", "scale": {"domain": [-3, 3], "nice": false, "zero": false}, "axis": {"orient": "bottom", "values": [-3,-2,-1,0,1,2,3], "labels": false, "domain": false, "title": null, "tickSize": -12}},
       "y": {"field": "e", "type": "quantitative", "scale": {"domain": [0, 16], "nice": false, "zero": false}, "axis": {"orient": "left", "values": [0,2,4,6,8,10,12,14,16], "labels": false, "domain": false, "title": null, "tickSize": -12}}}},
    {"data": {"name": "regA"}, "mark": {"type": "line", "color": "black", "strokeWidth": 1.5},
     "encoding": {
       "x": {"field": "r", "type": "quantitative", "scale": {"domain": [-3, 3], "nice": false, "zero": false}, "axis": {"orient": "bottom", "values": [-2.8,-2.6,-2.4,-2.2,-1.8,-1.6,-1.4,-1.2,-0.8,-0.6,-0.4,-0.2,0.2,0.4,0.6,0.8,1.2,1.4,1.6,1.8,2.2,2.4,2.6,2.8], "labels": false, "domain": false, "title": null, "tickSize": 9}},
       "y": {"field": "e", "type": "quantitative", "scale": {"domain": [0, 16], "nice": false, "zero": false}, "axis": {"orient": "left", "values": [1,3,5,7,9,11,13,15], "labels": false, "domain": false, "title": null, "tickSize": 9}}}},
    {"data": {"name": "ptsA"}, "mark": {"type": "point", "shape": "square", "filled": true, "size": 196, "stroke": "black", "strokeWidth": 2, "opacity": 1},
     "encoding": {
       "x": {"field": "r", "type": "quantitative", "scale": {"domain": [-3, 3], "nice": false, "zero": false}, "axis": {"orient": "bottom", "values": [-3,-2,-1,0,1,2,3], "title": "Relative ground elevation, RGE (cm)", "tickSize": 13, "labelPadding": 27, "titlePadding": 10, "labelExpr": "datum.value < 0 ? '-' + format(-datum.value, 'd') : format(datum.value, 'd')"}},
       "y": {"field": "e", "type": "quantitative", "scale": {"domain": [0, 16], "nice": false, "zero": false}, "axis": {"orient": "left", "values": [0,2,4,6,8,10,12,14,16], "title": "ECe (dS m⁻¹)", "tickSize": 12, "labelPadding": 19, "titlePadding": 15}},
       "fill": {"field": "g", "type": "nominal", "scale": {"domain": ["ΔTD = 0", "ΔTD > 0"], "range": ["black", "white"]},
         "legend": {"title": null, "orient": "none", "legendX": 611, "legendY": 240, "labelFontSize": 28, "symbolSize": 196, "symbolType": "square", "padding": 7, "symbolOffset": 2, "labelOffset": 7, "rowPadding": 9, "strokeColor": "#444", "symbolStrokeColor": "black", "symbolStrokeWidth": 2}}}},
    {"data": {"name": "txtA1"}, "mark": {"type": "text", "fontSize": 32, "align": "center", "baseline": "alphabetic"},
     "encoding": {"x": {"field": "r", "type": "quantitative", "axis": null}, "y": {"field": "e", "type": "quantitative", "axis": null}, "text": {"field": "t"}}},
    {"data": {"name": "txtA2"}, "mark": {"type": "text", "fontSize": 32, "align": "left", "baseline": "alphabetic"},
     "encoding": {"x": {"field": "r", "type": "quantitative", "axis": null}, "y": {"field": "e", "type": "quantitative", "axis": null}, "text": {"field": "t"}}},
    {"data": {"name": "txtA3"}, "mark": {"type": "text", "fontSize": 29, "align": "center", "baseline": "alphabetic"},
     "encoding": {"x": {"field": "r", "type": "quantitative", "axis": null}, "y": {"field": "e", "type": "quantitative", "axis": null}, "text": {"field": "t"}}},
    {"data": {"name": "ulA"}, "mark": {"type": "rule", "color": "black", "strokeWidth": 3},
     "encoding": {"x": {"field": "r", "type": "quantitative", "axis": null}, "x2": {"field": "r2"}, "y": {"field": "e", "type": "quantitative", "axis": null}}}
  ],
  "resolve": {"scale": {"x": "shared", "y": "shared"}, "axis": {"x": "independent", "y": "independent"}}
},
{
  "width": 774, "height": 393,
  "layer": [
    {"data": {"name": "hB"}, "mark": {"type": "rule", "color": "black", "strokeWidth": 2.7, "strokeDash": [14, 10]},
     "encoding": {"y": {"field": "e", "type": "quantitative", "scale": {"domain": [0, 16], "nice": false, "zero": false}, "axis": {"orient": "left", "values": [1,3,5,7,9,11,13,15], "labels": false, "domain": false, "title": null, "tickSize": 9}}}},
    {"data": {"name": "vB"}, "mark": {"type": "rule", "color": "black", "strokeWidth": 2.7, "strokeDash": [14, 10]},
     "encoding": {"x": {"field": "w", "type": "quantitative", "scale": {"domain": [0.4, 2.0], "nice": false, "zero": false}, "axis": {"orient": "bottom", "values": [0.45,0.5,0.55,0.65,0.7,0.75,0.85,0.9,0.95,1.05,1.1,1.15,1.25,1.3,1.35,1.45,1.5,1.55,1.65,1.7,1.75,1.85,1.9,1.95], "labels": false, "domain": false, "title": null, "tickSize": 9}}}},
    {"data": {"name": "ptsB"}, "mark": {"type": "point", "filled": true, "size": 200, "strokeWidth": 1.8, "opacity": 1},
     "encoding": {
       "x": {"field": "w", "type": "quantitative", "scale": {"domain": [0.4, 2.0], "nice": false, "zero": false}, "axis": {"orient": "bottom", "values": [0.4,0.6,0.8,1.0,1.2,1.4,1.6,1.8,2.0], "format": ".1f", "title": "Water table depth, WTD (m)", "tickSize": 13, "labelPadding": 27, "titlePadding": 10}},
       "y": {"field": "e", "type": "quantitative", "scale": {"domain": [0, 16], "nice": false, "zero": false}, "axis": {"orient": "left", "values": [0,2,4,6,8,10,12,14,16], "title": "ECe (dS m⁻¹)", "tickSize": 12, "labelPadding": 19, "titlePadding": 15}},
       "shape": {"field": "s", "type": "nominal",
         "scale": {"domain": ["X=0;ΔTD=0","X=4;ΔTD=0","X=8;ΔTD=0","X=12;ΔTD=0","X=16;ΔTD=0","X=0;ΔTD>0","X=4;ΔTD>0","X=8;ΔTD>0","X=12;ΔTD>0","X=16;ΔTD>0"],
                   "range": ["square","triangle-up","diamond","circle","M0,-1L0,1M-0.87,-0.5L0.87,0.5M-0.87,0.5L0.87,-0.5","square","triangle-up","diamond","circle","M-1,0L1,0M0,-1L0,1"]},
         "legend": {"title": null, "orient": "none", "legendX": 62, "legendY": 224, "columns": 2, "labelFontSize": 25, "symbolSize": 200, "padding": 9, "symbolOffset": 10, "labelOffset": 10, "rowPadding": 2.5, "columnPadding": 23, "strokeColor": "black", "symbolStrokeWidth": 1.8}},
       "fill": {"field": "s", "type": "nominal",
         "scale": {"domain": ["X=0;ΔTD=0","X=4;ΔTD=0","X=8;ΔTD=0","X=12;ΔTD=0","X=16;ΔTD=0","X=0;ΔTD>0","X=4;ΔTD>0","X=8;ΔTD>0","X=12;ΔTD>0","X=16;ΔTD>0"],
                   "range": ["black","black","black","black","black","white","white","white","white","white"]},
         "legend": {"title": null, "orient": "none", "legendX": 62, "legendY": 224, "columns": 2, "labelFontSize": 25, "symbolSize": 200, "padding": 9, "symbolOffset": 10, "labelOffset": 10, "rowPadding": 2.5, "columnPadding": 23, "strokeColor": "black", "symbolStrokeWidth": 1.8}},
       "stroke": {"field": "s", "type": "nominal",
         "scale": {"domain": ["X=0;ΔTD=0","X=4;ΔTD=0","X=8;ΔTD=0","X=12;ΔTD=0","X=16;ΔTD=0","X=0;ΔTD>0","X=4;ΔTD>0","X=8;ΔTD>0","X=12;ΔTD>0","X=16;ΔTD>0"],
                   "range": ["black","black","black","black","black","black","black","black","black","black"]},
         "legend": {"title": null, "orient": "none", "legendX": 62, "legendY": 224, "columns": 2, "labelFontSize": 25, "symbolSize": 200, "padding": 9, "symbolOffset": 10, "labelOffset": 10, "rowPadding": 2.5, "columnPadding": 23, "strokeColor": "black", "symbolStrokeWidth": 1.8}}}},
    {"data": {"name": "txtB1"}, "mark": {"type": "text", "fontSize": 26, "align": "left", "baseline": "alphabetic"},
     "encoding": {"x": {"field": "w", "type": "quantitative", "axis": null}, "y": {"field": "e", "type": "quantitative", "axis": null}, "text": {"field": "t"}}},
    {"data": {"name": "txtB2"}, "mark": {"type": "text", "fontSize": 26, "align": "center", "baseline": "alphabetic", "angle": 270},
     "encoding": {"x": {"field": "w", "type": "quantitative", "axis": null}, "y": {"field": "e", "type": "quantitative", "axis": null}, "text": {"field": "t"}}},
    {"data": {"name": "txtB3"}, "mark": {"type": "text", "fontSize": 32, "align": "center", "baseline": "alphabetic"},
     "encoding": {"x": {"field": "w", "type": "quantitative", "axis": null}, "y": {"field": "e", "type": "quantitative", "axis": null}, "text": {"field": "t"}}},
    {"data": {"name": "ulB"}, "mark": {"type": "rule", "color": "black", "strokeWidth": 3},
     "encoding": {
       "x": {"field": "w", "type": "quantitative", "axis": {"orient": "bottom", "values": [0.4,0.6,0.8,1.0,1.2,1.4,1.6,1.8,2.0], "labels": false, "domain": false, "title": null, "tickSize": -12}},
       "x2": {"field": "w2"},
       "y": {"field": "e", "type": "quantitative", "axis": {"orient": "left", "values": [0,2,4,6,8,10,12,14,16], "labels": false, "domain": false, "title": null, "tickSize": -12}}}}
  ],
  "resolve": {"scale": {"x": "shared", "y": "shared"}, "axis": {"x": "independent", "y": "independent"}}
}
]
}
